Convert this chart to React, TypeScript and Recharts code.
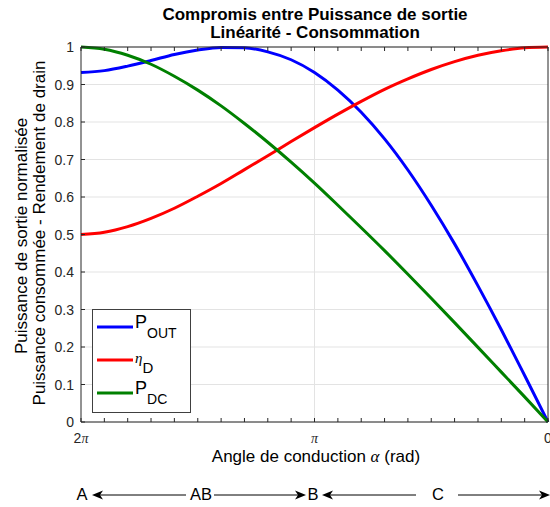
import {
  LineChart,
  Line,
  XAxis,
  YAxis,
  CartesianGrid,
  Legend,
  Customized,
} from "recharts";

// conduction angle (rad), read from left (2π, class A) to right (0, class C)
const ALPHA = [
  6.2832, 5.969, 5.655, 5.341, 5.027, 4.712, 4.398, 4.084, 3.77, 3.456, 3.1416,
  2.827, 2.513, 2.199, 1.885, 1.571, 1.257, 0.942, 0.628, 0.314, 0,
];
const P_OUT = [
  0.932, 0.937, 0.949, 0.964, 0.98, 0.992, 0.999, 0.998, 0.987, 0.966, 0.932,
  0.885, 0.826, 0.755, 0.672, 0.578, 0.475, 0.363, 0.246, 0.124, 0,
];
const ETA_D = [
  0.5, 0.506, 0.521, 0.543, 0.57, 0.602, 0.636, 0.673, 0.71, 0.748, 0.785,
  0.821, 0.855, 0.887, 0.915, 0.94, 0.961, 0.978, 0.99, 0.998, 1,
];
const P_DC = [
  1, 0.994, 0.978, 0.954, 0.922, 0.885, 0.843, 0.796, 0.746, 0.693, 0.637,
  0.578, 0.518, 0.457, 0.394, 0.33, 0.265, 0.199, 0.133, 0.067, 0,
];

const X_TICKS = [
  0, 0.314, 0.628, 0.942, 1.257, 1.571, 1.885, 2.199, 2.513, 2.827, 3.1416,
  3.456, 3.77, 4.084, 4.398, 4.712, 5.027, 5.341, 5.655, 5.969, 6.2832,
];
const X_MAJOR = [6.2832, 3.1416, 0];
const X_MAJOR_LABELS = ["2π", "π", "0"];
const Y_TICKS = [0, 0.1, 0.2, 0.3, 0.4, 0.5, 0.6, 0.7, 0.8, 0.9, 1];
const X_GRID = [3.1416];

const REGIONS = ["A", "AB", "B", "C"];

const data = ALPHA.map((a, i) => ({
  alpha: a,
  pout: P_OUT[i],
  eta: ETA_D[i],
  pdc: P_DC[i],
}));

const AXIS = "#262626";
const FONT = "'Liberation Sans', Arial, Helvetica, sans-serif";
const SERIF = "'Liberation Serif', 'DejaVu Serif', serif";

const majorLabel = (v: number) => {
  const i = X_MAJOR.findIndex((m) => Math.abs(m - v) < 1e-3);
  return i < 0 ? null : X_MAJOR_LABELS[i];
};

// draws "π" in the TeX-like italic serif, the rest in the axis font
const withPi = (s: string) =>
  s.split("").map((c, i) =>
    c === "π" ? (
      <tspan key={i} fontFamily={SERIF} fontStyle="italic">
        π
      </tspan>
    ) : (
      <tspan key={i}>{c}</tspan>
    )
  );

const BottomTick = ({ x, y, payload }: any) => {
  const label = majorLabel(payload.value);
  return (
    <g>
      <line x1={x} y1={y} x2={x} y2={y - 4} stroke={AXIS} />
      {label && (
        <text x={x} y={y + 21} textAnchor="middle" fontSize={14} fill={AXIS} fontFamily={FONT}>
          {withPi(label)}
        </text>
      )}
    </g>
  );
};

const TopTick = ({ x, y }: any) => (
  <line x1={x} y1={y} x2={x} y2={y + 4} stroke={AXIS} />
);

const LeftTick = ({ x, y, payload }: any) => (
  <g>
    <line x1={x} y1={y} x2={x + 4} y2={y} stroke={AXIS} />
    <text x={x - 7} y={y} dy="0.36em" textAnchor="end" fontSize={14} fill={AXIS} fontFamily={FONT}>
      {String(payload.value)}
    </text>
  </g>
);

const RightTick = ({ x, y }: any) => (
  <line x1={x} y1={y} x2={x - 4} y2={y} stroke={AXIS} />
);

const arrowHead = (tip: number, y: number, dir: number) => (
  <path
    d={`M${tip},${y} L${tip + dir * 11},${y - 4.5} L${tip + dir * 8},${y} L${tip + dir * 11},${y + 4.5} Z`}
    fill="#000"
  />
);

const Annotations = () => {
  const txt = { fontSize: 17, fontFamily: FONT, fill: "#000", textAnchor: "middle" as const };
  const reg = { ...txt, fontSize: 16.5 };
  const ay = 495;
  return (
    <g>
      <text x={315} y={20} fontSize={17} fontWeight="bold" textAnchor="middle" fontFamily={FONT}>
        Compromis entre Puissance de sortie
      </text>
      <text x={315} y={38} fontSize={17} fontWeight="bold" textAnchor="middle" fontFamily={FONT}>
        Linéarité - Consommation
      </text>
      <text {...txt} x={316} y={462}>
        Angle de conduction{" "}
        <tspan fontFamily={SERIF} fontStyle="italic">
          α
        </tspan>{" "}
        (rad)
      </text>
      <g transform="translate(20.5,236) rotate(-90)">
        <text {...txt} x={0} y={0} dy="0.36em">
          Puissance de sortie normalisée
        </text>
      </g>
      <g transform="translate(38.5,233) rotate(-90)">
        <text {...txt} x={0} y={0} dy="0.36em">
          Puissance consommée - Rendement de drain
        </text>
      </g>
      {/* class regions under the x axis */}
      <text {...reg} x={82} y={500}>{REGIONS[0]}</text>
      <text {...reg} x={201} y={500}>{REGIONS[1]}</text>
      <text {...reg} x={313} y={500}>{REGIONS[2]}</text>
      <text {...reg} x={438} y={500}>{REGIONS[3]}</text>
      <line x1={100} y1={ay} x2={186} y2={ay} stroke="#000" />
      {arrowHead(92, ay, 1)}
      <line x1={214} y1={ay} x2={298} y2={ay} stroke="#000" />
      {arrowHead(306, ay, -1)}
      <line x1={330} y1={ay} x2={416} y2={ay} stroke="#000" />
      {arrowHead(322, ay, 1)}
      <line x1={458} y1={ay} x2={542} y2={ay} stroke="#000" />
      {arrowHead(550, ay, -1)}
    </g>
  );
};

const LegendBox = () => (
  <svg width={99} height={104} style={{ display: "block" }}>
    <rect x={0.5} y={0.5} width={98} height={103} fill="#fff" stroke="#404040" />
    <line x1={5} y1={18} x2={41} y2={18} stroke="#0000ff" strokeWidth={3} />
    <text x={43} y={19} fontSize={18} fontFamily={FONT} fill="#000">
      P<tspan fontSize={14} dy={10}>OUT</tspan>
    </text>
    <line x1={5} y1={51} x2={41} y2={51} stroke="#ff0000" strokeWidth={3} />
    <text x={43} y={54} fontSize={15} fontFamily={FONT} fill="#000">
      <tspan fontFamily={SERIF} fontStyle="italic">η</tspan>
      <tspan fontSize={15} dy={10}>D</tspan>
    </text>
    <line x1={5} y1={84} x2={41} y2={84} stroke="#008000" strokeWidth={3} />
    <text x={43} y={85} fontSize={18} fontFamily={FONT} fill="#000">
      P<tspan fontSize={14} dy={10}>DC</tspan>
    </text>
  </svg>
);

export default function App() {
  return (
    <div style={{ width: 550, height: 507, background: "#fff" }}>
      <style>{"body{margin:0}"}</style>
      <LineChart
        width={550}
        height={507}
        data={data}
        margin={{ top: 46, right: 1, bottom: 55, left: 0 }}
      >
        <CartesianGrid
          stroke="#e3e3e3"
          vertical
          verticalValues={X_GRID}
          horizontalValues={Y_TICKS}
        />
        <XAxis
          dataKey="alpha"
          type="number"
          domain={[0, 6.2832]}
          reversed
          ticks={X_TICKS}
          interval={0}
          height={30}
          tickSize={0}
          tickMargin={0}
          tick={<BottomTick />}
          axisLine={{ stroke: AXIS }}
        />
        <XAxis
          xAxisId="top"
          dataKey="alpha"
          type="number"
          orientation="top"
          domain={[0, 6.2832]}
          reversed
          ticks={X_TICKS}
          interval={0}
          height={1}
          tickSize={0}
          tickMargin={0}
          tick={<TopTick />}
          axisLine={{ stroke: AXIS }}
        />
        <YAxis
          type="number"
          domain={[0, 1]}
          ticks={Y_TICKS}
          interval={0}
          width={81}
          tickSize={0}
          tickMargin={0}
          tick={<LeftTick />}
          axisLine={{ stroke: AXIS }}
        />
        <YAxis
          yAxisId="right"
          type="number"
          orientation="right"
          domain={[0, 1]}
          ticks={Y_TICKS}
          interval={0}
          width={1}
          tickSize={0}
          tickMargin={0}
          tick={<RightTick />}
          axisLine={{ stroke: AXIS }}
        />
        <Line type="monotone" dataKey="pout" stroke="#0000ff" strokeWidth={3} dot={false} isAnimationActive={false} />
        <Line type="monotone" dataKey="eta" stroke="#ff0000" strokeWidth={3} dot={false} isAnimationActive={false} />
        <Line type="monotone" dataKey="pdc" stroke="#008000" strokeWidth={3} dot={false} isAnimationActive={false} />
        <Legend
          layout="vertical"
          align="center"
          verticalAlign="middle"
          content={<LegendBox />}
          wrapperStyle={{ left: 92, top: 309, width: 99, height: 104, lineHeight: 0 }}
        />
        <Customized component={<Annotations />} />
      </LineChart>
    </div>
  );
}
